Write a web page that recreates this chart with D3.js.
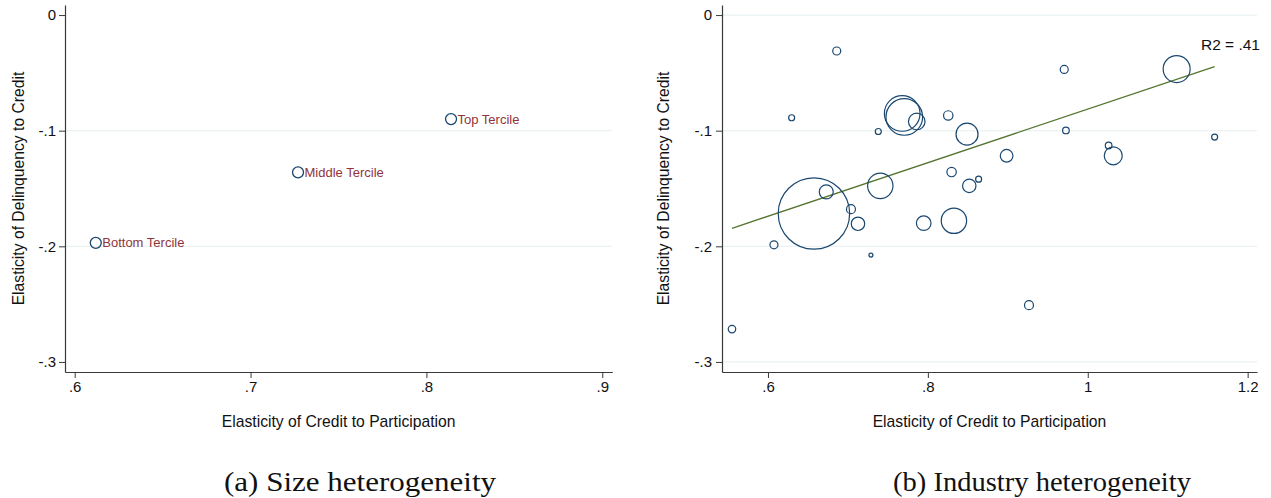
<!DOCTYPE html>
<html>
<head>
<meta charset="utf-8">
<script src="https://cdn.jsdelivr.net/npm/d3@7"></script>
<style>
  html, body { margin: 0; padding: 0; background: #fff; }
  svg { display: block; }
</style>
</head>
<body>
<svg id="chart" width="1271" height="498"></svg>
<script>
// ---------- data ----------
const yTicks = [0, -0.1, -0.2, -0.3];
const xTicksA = [0.6, 0.7, 0.8, 0.9];
const xTicksB = [0.6, 0.8, 1.0, 1.2];

// Panel (a): size terciles
const tercileNames = ["Bottom Tercile", "Middle Tercile", "Top Tercile"];
const tercileX = [0.612, 0.727, 0.814];
const tercileY = [-0.197, -0.136, -0.090];

// Panel (b): industries (weighted bubbles)
const industryX = [0.555, 0.6075, 0.6296, 0.6575, 0.6729, 0.686, 0.7038, 0.7126, 0.7288, 0.738,
                   0.7405, 0.7679, 0.7705, 0.7861, 0.7948, 0.8255, 0.8297, 0.8326, 0.849, 0.8518,
                   0.8635, 0.8985, 0.9265, 0.9706, 0.9727, 1.0261, 1.0319, 1.1112, 1.1587];
const industryY = [-0.2716, -0.1987, -0.0888, -0.1716, -0.1529, -0.0311, -0.1679, -0.1805, -0.2076, -0.1007,
                   -0.1477, -0.0851, -0.0881, -0.0920, -0.1800, -0.0868, -0.1358, -0.1779, -0.1030, -0.1477,
                   -0.1419, -0.1217, -0.2509, -0.0470, -0.0998, -0.1128, -0.1217, -0.0467, -0.1055];
const industryWeight = [14, 16, 9, 1274, 49, 16, 20, 45, 4, 9,
                        161, 317, 335, 69, 53, 22, 22, 161, 121, 45,
                        9, 40, 20, 16, 11, 11, 81, 182, 9];
const fitIntercept = -0.313;
const fitSlope = 0.2317;
const r2Label = "R2 = .41";

const xTitle = "Elasticity of Credit to Participation";
const yTitle = "Elasticity of Delinquency to Credit";
const captions = ["(a) Size heterogeneity", "(b) Industry heterogeneity"];

// ---------- styles ----------
const navy = "#1a476f", maroon = "#90353b", olive = "#55752f";
const gridColor = "#eaf2f3", axisColor = "#3a3a3a";
const sans = "'Liberation Sans', Arial, sans-serif";
const serif = "'Liberation Serif', 'Times New Roman', serif";

const svg = d3.select("#chart");

function fmt(v) {
  if (Math.abs(v) < 1e-9) return "0";
  return String(+v.toFixed(3)).replace(/^(-?)0\./, "$1.");
}

function panel(opts) {
  const g = svg.append("g");
  const x = d3.scaleLinear().domain(opts.xDomain).range(opts.xRange);
  const y = d3.scaleLinear().domain([0.0087, -0.3087]).range([5, 372]);

  // gridlines
  g.append("g").selectAll("line").data(opts.gridVals).join("line")
    .attr("x1", opts.xRange[0]).attr("x2", opts.xRange[1])
    .attr("y1", d => y(d)).attr("y2", d => y(d))
    .attr("stroke", gridColor).attr("stroke-width", 1.3);

  // y axis
  const ya = g.append("g").attr("transform", `translate(${opts.xRange[0]},0)`)
    .call(d3.axisLeft(y).tickValues(yTicks).tickFormat(fmt).tickSize(6).tickPadding(opts.yPad).tickSizeOuter(0));
  // x axis
  const xa = g.append("g").attr("transform", `translate(0,372)`)
    .call(d3.axisBottom(x).tickValues(opts.xTicks).tickFormat(fmt).tickSize(6).tickPadding(3).tickSizeOuter(0));
  [ya, xa].forEach(a => {
    a.attr("font-size", null).attr("font-family", null);
    a.select(".domain").attr("stroke", axisColor).attr("stroke-width", 1.2);
    a.selectAll(".tick line").attr("stroke", axisColor).attr("stroke-width", 1);
    a.selectAll(".tick text").attr("fill", "#111").style("font-size", "15px").style("font-family", sans);
  });

  // titles
  g.append("text").attr("x", (opts.xRange[0] + opts.xRange[1]) / 2).attr("y", 427)
    .attr("text-anchor", "middle").style("font-family", sans).style("font-size", "15.7px").attr("fill", "#111")
    .text(xTitle);
  g.append("text").attr("transform", `translate(${opts.yTitleX},${y(-0.15)}) rotate(-90)`)
    .attr("text-anchor", "middle").attr("dy", "0.35em")
    .style("font-family", sans).style("font-size", "15.7px").attr("fill", "#111")
    .text(yTitle);

  // caption
  g.append("text").attr("x", opts.captionX).attr("y", 491)
    .attr("text-anchor", "middle").style("font-family", serif).style("font-size", "27px").attr("fill", "#111")
    .attr("textLength", opts.captionW).attr("lengthAdjust", "spacingAndGlyphs")
    .text(opts.caption);
  return { g, x, y };
}

// Panel (a)
const A = panel({ xDomain: [0.5945, 0.9057], xRange: [65, 612.3], xTicks: xTicksA, yPad: 3,
                  gridVals: [-0.1, -0.2], caption: captions[0], captionX: 360, captionW: 272, yTitleX: 18 });
const terciles = tercileNames.map((n, i) => ({ name: n, x: tercileX[i], y: tercileY[i] }));
A.g.append("g").selectAll("circle").data(terciles).join("circle")
  .attr("cx", d => A.x(d.x)).attr("cy", d => A.y(d.y)).attr("r", 5.5)
  .attr("fill", "none").attr("stroke", navy).attr("stroke-width", 1.3);
A.g.append("g").selectAll("text").data(terciles).join("text")
  .attr("x", d => A.x(d.x) + 6.5).attr("y", d => A.y(d.y)).attr("dy", "0.35em")
  .style("font-family", sans).style("font-size", "13px").attr("fill", maroon)
  .text(d => d.name);

// Panel (b)
const B = panel({ xDomain: [0.5425, 1.2117], xRange: [722, 1257], xTicks: xTicksB, yPad: 4,
                  gridVals: yTicks, caption: captions[1], captionX: 1042, captionW: 298, yTitleX: 663 });
const inds = industryX.map((v, i) => ({ x: v, y: industryY[i], w: industryWeight[i] }));
const rScale = d3.scaleSqrt().domain([0, d3.max(industryWeight)]).range([0, 35.7]);
const xMin = d3.min(industryX), xMax = d3.max(industryX);
B.g.append("line")
  .attr("x1", B.x(xMin)).attr("y1", B.y(fitIntercept + fitSlope * xMin))
  .attr("x2", B.x(xMax)).attr("y2", B.y(fitIntercept + fitSlope * xMax))
  .attr("stroke", olive).attr("stroke-width", 1.3);
B.g.append("g").selectAll("circle").data(inds).join("circle")
  .attr("cx", d => B.x(d.x)).attr("cy", d => B.y(d.y)).attr("r", d => rScale(d.w))
  .attr("fill", "none").attr("stroke", navy).attr("stroke-width", 1.2);
B.g.append("text").attr("x", 1260).attr("y", 50).attr("text-anchor", "end")
  .style("font-family", sans).style("font-size", "15.5px").attr("fill", "#111").text(r2Label);
</script>
</body>
</html>
